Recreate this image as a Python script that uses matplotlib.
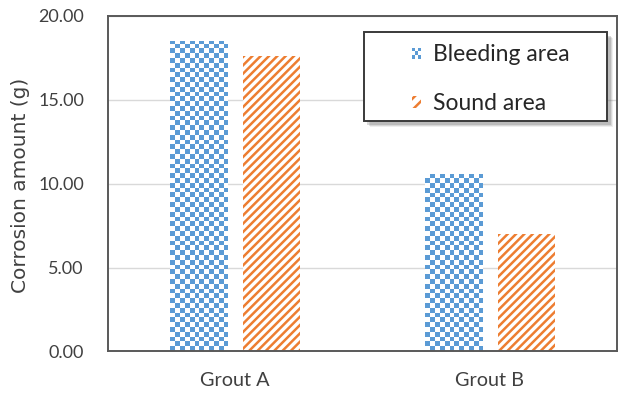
import numpy as np
import matplotlib
matplotlib.use("Agg")
import matplotlib.pyplot as plt
import matplotlib.transforms as mtransforms
from matplotlib.patches import Patch, Rectangle
from matplotlib.legend_handler import HandlerBase
from matplotlib.ticker import FormatStrFormatter

plt.rcParams['font.family'] = ['Lato', 'DejaVu Sans']
plt.rcParams['hatch.linewidth'] = 1.8

# corrosion amount per grout type
groups = ['Grout A', 'Grout B']
bleeding = [18.5, 10.6]
sound = [17.6, 7.0]
series_labels = ['Bleeding area', 'Sound area']

BLUE = '#5B9BD5'
ORANGE = '#ED7D31'
SPINE = '#595959'


class CheckerHandler(HandlerBase):
    """Small checkerboard swatch for the legend."""
    def create_artists(self, legend, orig_handle, xdescent, ydescent,
                       width, height, fontsize, trans):
        n = 3
        w = width / n
        h = height / n
        cells = []
        for i in range(n):
            for j in range(n):
                if (i + j) % 2 == 0:
                    cells.append(Rectangle((-xdescent + i * w, -ydescent + j * h), w, h,
                                           facecolor=BLUE, linewidth=0, transform=trans))
        return cells


fig = plt.figure(figsize=(6.19, 3.94), dpi=100)
ax = fig.add_axes([0.1737, 0.1079, 0.8236, 0.852])

x = np.arange(len(groups))
width = 0.225
offset = 0.143

bars_b = ax.bar(x - offset, bleeding, width, facecolor='white', linewidth=0, zorder=2)
bars_s = ax.bar(x + offset, sound, width, facecolor='white', edgecolor=ORANGE,
                hatch='////', linewidth=0, zorder=2)

# checkerboard fill, clipped to each bleeding-area bar
rows, cols = 70, 106
checker = (np.add.outer(np.arange(rows), np.arange(cols)) % 2).astype(float)
cmap = matplotlib.colors.ListedColormap([BLUE, '#FFFFFF'])
for bar in bars_b:
    im = ax.imshow(checker, cmap=cmap, extent=(0, 1, 0, 1), transform=ax.transAxes,
                   aspect='auto', interpolation='nearest', zorder=2.5)
    im.set_clip_path(bar)

ax.set_xlim(-0.5, 1.5)
ax.set_ylim(0, 20)
ax.set_xticks(x)
ax.set_xticklabels(groups)
ax.set_yticks([0, 5, 10, 15, 20])
ax.yaxis.set_major_formatter(FormatStrFormatter('%.2f'))
ax.tick_params(axis='both', length=0, colors='#404040')
ax.tick_params(axis='y', pad=17, labelsize=13)
ax.tick_params(axis='x', pad=15, labelsize=14.3)

ax.grid(axis='y', color='#D9D9D9', linewidth=1.0)
ax.set_axisbelow(True)
for s in ax.spines.values():
    s.set_color(SPINE)
    s.set_linewidth(1.4)
    s.set_zorder(3)

ax.set_ylabel('Corrosion amount (g)', fontsize=14.5, color='#404040',
              family=['DejaVu Sans'])
ax.yaxis.set_label_coords(-0.152, 0.494)

# legend box with a soft drop shadow (offset copies, in points)
box_xy, box_w, box_h = (0.503, 0.686), 0.477, 0.265
for k, a in [(4.5, 0.10), (3.5, 0.15), (2.5, 0.22)]:
    shift = mtransforms.ScaledTranslation(k / 72, -k / 72, fig.dpi_scale_trans)
    ax.add_patch(Rectangle(box_xy, box_w, box_h, transform=ax.transAxes + shift,
                           facecolor='#5A5A5A', alpha=a, linewidth=0, zorder=3.9,
                           clip_on=False))
ax.add_patch(Rectangle(box_xy, box_w, box_h, transform=ax.transAxes,
                       facecolor='white', edgecolor='#3A3A3A', linewidth=1.4, zorder=4))

proxy_b = Patch()
proxy_s = Patch(facecolor='white', edgecolor=ORANGE, hatch='///', linewidth=0)
leg = ax.legend([proxy_b, proxy_s], series_labels, handler_map={proxy_b: CheckerHandler()},
                loc='center left', bbox_to_anchor=(0.597, 0.811), frameon=False,
                fontsize=16.5, borderpad=0, borderaxespad=0, handlelength=0.4,
                handleheight=0.4, handletextpad=0.5, labelspacing=1.2)
leg.set_zorder(5)
for t in leg.get_texts():
    t.set_color('#262626')

fig.savefig('out.png', dpi=100)
